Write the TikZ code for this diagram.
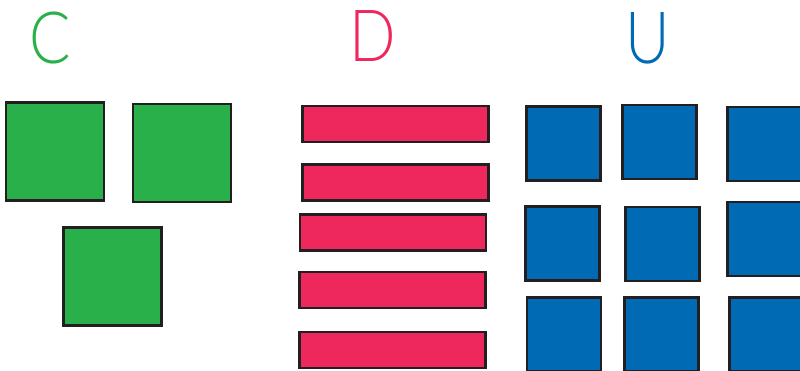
\documentclass[tikz,border=0pt]{standalone}
\usepackage{fontspec}
\usepackage{xcolor}
\usepackage{tikz}
\newfontfamily\letterfont{Lato Light}
\definecolor{mygreen}{HTML}{2AB04B}
\definecolor{mypink}{HTML}{EE285C}
\definecolor{myblue}{HTML}{006AB4}
\definecolor{myborder}{HTML}{231F20}
\tikzset{
greenbox/.style={
draw=myborder,
fill=mygreen,
line width=1.25pt,
minimum width=1.96cm,
minimum height=1.96cm,
inner sep=0pt
},
pinkbar/.style={
draw=myborder,
fill=mypink,
line width=1.25pt,
minimum width=3.72cm,
minimum height=0.72cm,
inner sep=0pt
},
bluebox/.style={
draw=myborder,
fill=myblue,
line width=1.25pt,
minimum width=1.48cm,
minimum height=1.48cm,
inner sep=0pt
},
letter/.style={
font=\letterfont\fontsize{41}{41}\selectfont,
anchor=base,
inner sep=0pt,
xscale=0.85,
transform shape
}
}

\begin{document}
\begin{tikzpicture}[x=0.02cm, y=-0.02cm]
\clip (0,0) rectangle (800,370);

% letters
\node[letter, text=mygreen] (lc) at (50,63) {C};
\node[letter, text=mypink] (ld) at (372.5,61) {D};
\node[letter, text=myblue] (lu) at (648,63) {U};

% C group
\node[greenbox] (c1) at (55,151.5) {};
\node[greenbox] (c2) at (182,153) {};
\node[greenbox] (c3) at (112.5,276.5) {};

% D group
\node[pinkbar] (d1) at (395.5,124) {};
\node[pinkbar] (d2) at (395.5,182.5) {};
\node[pinkbar] (d3) at (393,232.5) {};
\node[pinkbar] (d4) at (392.5,290) {};
\node[pinkbar] (d5) at (392.5,350) {};

% U group
\node[bluebox] (u11) at (563.5,143.5) {};
\node[bluebox] (u12) at (659.5,142) {};
\node[bluebox] (u13) at (764.5,144) {};
\node[bluebox] (u21) at (562.5,243.5) {};
\node[bluebox] (u22) at (662.5,244) {};
\node[bluebox] (u23) at (764.5,239) {};
\node[bluebox] (u31) at (564,334.5) {};
\node[bluebox] (u32) at (661.5,334.5) {};
\node[bluebox] (u33) at (766.5,334.5) {};

\end{tikzpicture}
\end{document}
